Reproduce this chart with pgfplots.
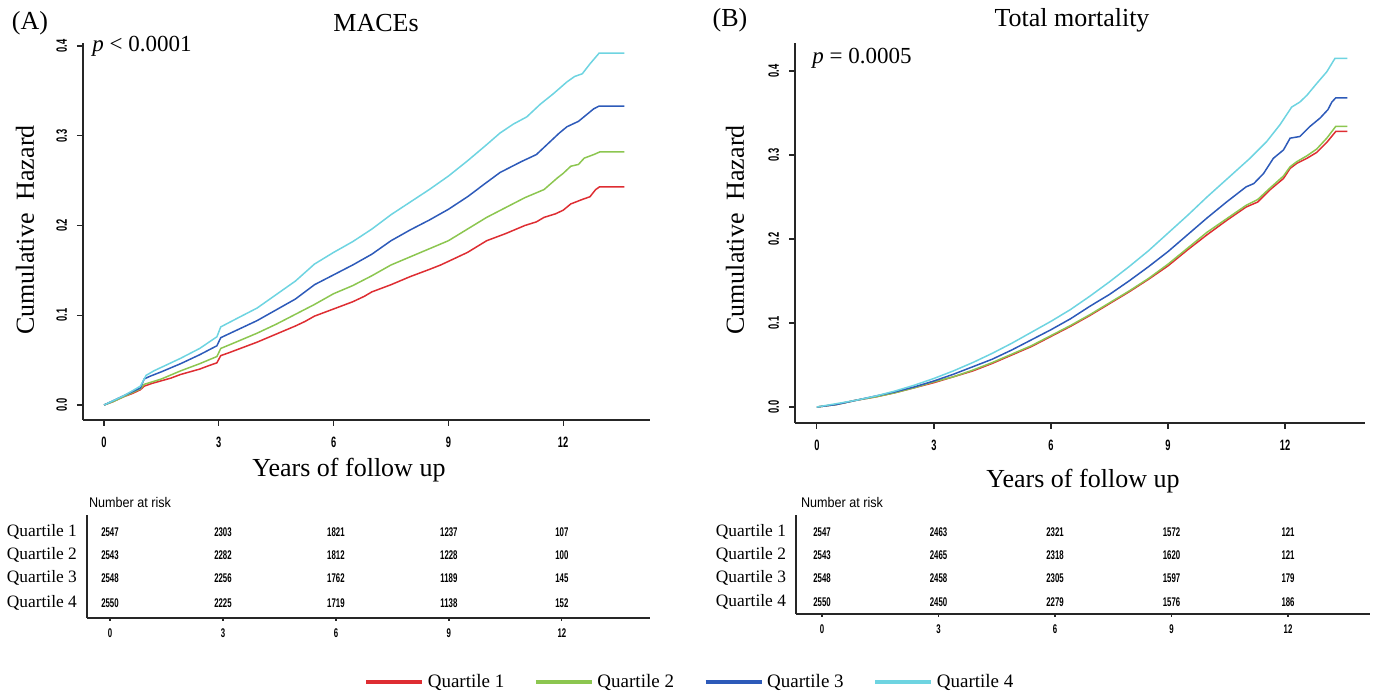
\documentclass[border=0pt]{standalone}
\usepackage{fontspec}
\setmainfont{Liberation Serif}
\newfontfamily\narrowsans[FakeStretch=0.62]{Liberation Sans}
\newfontfamily\risksans[FakeStretch=0.9]{Liberation Sans}
\usepackage{pgfplots}
\pgfplotsset{compat=1.18}
\usepackage{pgfplotstable}

\definecolor{qred}{RGB}{222,45,50}
\definecolor{qgreen}{RGB}{140,198,80}
\definecolor{qblue}{RGB}{45,90,185}
\definecolor{qcyan}{RGB}{110,212,225}

% ---------------- Panel A: MACEs ----------------
\pgfplotstableread{
t h
0 0
0.25 0.004
0.5 0.009
0.75 0.013
0.95 0.017
1.05 0.021
1.25 0.024
1.5 0.027
1.75 0.030
2.0 0.034
2.25 0.037
2.5 0.040
2.75 0.044
2.95 0.047
3.05 0.055
3.25 0.058
3.5 0.062
3.75 0.066
4.0 0.070
4.5 0.079
5.0 0.088
5.25 0.093
5.5 0.099
6.0 0.107
6.5 0.115
6.8 0.121
7.0 0.126
7.5 0.134
8.0 0.143
8.5 0.151
8.8 0.156
9.0 0.160
9.5 0.170
10.0 0.183
10.5 0.191
11.0 0.200
11.3 0.204
11.5 0.209
11.8 0.213
12.0 0.217
12.2 0.224
12.5 0.229
12.7 0.232
12.85 0.240
12.95 0.243
13.6 0.243
}\AqOne
\pgfplotstableread{
t h
0 0
0.25 0.004
0.5 0.009
0.75 0.014
0.95 0.018
1.05 0.023
1.5 0.029
2.0 0.038
2.5 0.046
2.95 0.054
3.05 0.063
3.5 0.071
4.0 0.080
4.5 0.090
5.0 0.101
5.5 0.112
6.0 0.124
6.5 0.133
7.0 0.144
7.5 0.156
8.0 0.165
8.5 0.174
9.0 0.183
9.5 0.196
10.0 0.209
10.5 0.220
11.0 0.231
11.5 0.240
11.85 0.253
12.0 0.258
12.2 0.266
12.4 0.268
12.55 0.275
12.8 0.279
12.96 0.282
13.6 0.282
}\AqTwo
\pgfplotstableread{
t h
0 0
0.25 0.005
0.5 0.010
0.75 0.015
0.95 0.019
1.05 0.029
1.2 0.032
1.5 0.037
2.0 0.046
2.5 0.056
2.95 0.066
3.05 0.075
3.5 0.084
4.0 0.094
4.5 0.106
5.0 0.118
5.5 0.134
6.0 0.145
6.5 0.156
7.0 0.168
7.5 0.183
8.0 0.195
8.5 0.206
9.0 0.218
9.5 0.232
10.0 0.248
10.35 0.259
10.9 0.271
11.3 0.279
11.5 0.287
11.65 0.293
11.9 0.303
12.1 0.310
12.4 0.316
12.6 0.323
12.8 0.330
12.94 0.333
13.6 0.333
}\AqThree
\pgfplotstableread{
t h
0 0
0.25 0.005
0.5 0.010
0.75 0.016
0.95 0.021
1.1 0.033
1.3 0.038
1.5 0.042
2.0 0.052
2.5 0.063
2.95 0.076
3.05 0.087
3.5 0.097
4.0 0.108
4.5 0.123
5.0 0.138
5.5 0.157
6.0 0.170
6.5 0.182
7.0 0.196
7.5 0.212
8.0 0.226
8.5 0.240
9.0 0.255
9.5 0.272
10.0 0.290
10.35 0.303
10.7 0.313
11.05 0.321
11.4 0.335
11.75 0.347
12.1 0.360
12.3 0.366
12.5 0.369
12.7 0.380
12.94 0.392
13.6 0.392
}\AqFour

% ---------------- Panel B: Total mortality ----------------
\pgfplotstableread{
t h
0 0
0.5 0.003
1 0.008
1.5 0.012
2 0.017
2.5 0.023
3 0.029
3.5 0.036
4 0.043
4.5 0.052
5 0.062
5.5 0.072
6 0.084
6.5 0.096
7 0.109
7.5 0.123
8 0.137
8.5 0.152
9 0.168
9.5 0.187
10 0.205
10.5 0.222
11 0.238
11.3 0.244
11.6 0.258
11.96 0.272
12.13 0.284
12.3 0.290
12.56 0.296
12.81 0.303
13.07 0.315
13.3 0.328
13.6 0.328
}\BqOne
\pgfplotstableread{
t h
0 0
0.5 0.003
1 0.008
1.5 0.012
2 0.017
2.5 0.023
3 0.030
3.5 0.036
4 0.044
4.5 0.053
5 0.063
5.5 0.073
6 0.085
6.5 0.097
7 0.110
7.5 0.124
8 0.138
8.5 0.153
9 0.170
9.5 0.189
10 0.208
10.5 0.224
11 0.240
11.3 0.247
11.6 0.260
11.96 0.275
12.13 0.286
12.3 0.292
12.56 0.299
12.81 0.307
13.07 0.320
13.3 0.334
13.6 0.334
}\BqTwo
\pgfplotstableread{
t h
0 0
0.5 0.003
1 0.008
1.5 0.013
2 0.018
2.5 0.024
3 0.031
3.5 0.039
4 0.048
4.5 0.057
5 0.068
5.5 0.080
6 0.092
6.5 0.105
7 0.120
7.5 0.134
8 0.150
8.5 0.167
9 0.185
9.5 0.205
10 0.225
10.5 0.244
11 0.262
11.2 0.266
11.45 0.278
11.7 0.296
11.96 0.306
12.13 0.320
12.38 0.322
12.64 0.334
12.9 0.344
13.1 0.354
13.2 0.363
13.3 0.368
13.6 0.368
}\BqThree
\pgfplotstableread{
t h
0 0
0.5 0.004
1 0.008
1.5 0.013
2 0.019
2.5 0.026
3 0.034
3.5 0.043
4 0.053
4.5 0.064
5 0.076
5.5 0.089
6 0.102
6.5 0.116
7 0.132
7.5 0.149
8 0.167
8.5 0.186
9 0.207
9.5 0.228
10 0.250
10.67 0.278
11.1 0.296
11.53 0.316
11.87 0.336
12.17 0.357
12.38 0.363
12.56 0.371
12.81 0.385
13.07 0.399
13.28 0.415
13.6 0.415
}\BqFour

% ---------------- Numbers at risk ----------------
\pgfplotstableread{
x y n
0 -532 2547
3 -532 2303
6 -532 1821
9 -532 1237
12 -532 107
0 -555 2543
3 -555 2282
6 -555 1812
9 -555 1228
12 -555 100
0 -578 2548
3 -578 2256
6 -578 1762
9 -578 1189
12 -578 145
0 -603 2550
3 -603 2225
6 -603 1719
9 -603 1138
12 -603 152
}\riskA
\pgfplotstableread{
x y n
0 -532 2547
3 -532 2463
6 -532 2321
9 -532 1572
12 -532 121
0 -555 2543
3 -555 2465
6 -555 2318
9 -555 1620
12 -555 121
0 -578 2548
3 -578 2458
6 -578 2305
9 -578 1597
12 -578 179
0 -602 2550
3 -602 2450
6 -602 2279
9 -602 1576
12 -602 186
}\riskB

\pgfplotsset{
  kmbase/.style={
    scale only axis, anchor=south west,
    axis x line*=bottom, axis y line*=left,
    axis line style={-, line width=0.6pt, black!85},
    tick style={line width=0.6pt, black!85},
    tick align=outside,
    xtick={0,3,6,9,12},
    /pgf/number format/assume math mode=true,
    ticklabel style={font=\narrowsans\bfseries\fontsize{7.5}{8}\selectfont},
  },
  kmmain/.style={
    kmbase,
    major tick length=3pt,
    ytick={0,0.1,0.2,0.3,0.4},
    yticklabel style={rotate=90, anchor=south,
      /pgf/number format/fixed, /pgf/number format/fixed zerofill,
      /pgf/number format/precision=1},
    xticklabel shift=2pt,
    yticklabel shift=1.5pt,
    every axis plot/.append style={line width=0.75pt},
  },
  kmrisk/.style={
    kmbase,
    major tick length=1.5pt,
    clip=false,
    ytick={-532,-555,-578,-603},
    yticklabels={Quartile 1,Quartile 2,Quartile 3,Quartile 4},
    ytick style={draw=none},
    yticklabel style={font=\fontsize{8.7}{9}\selectfont},
    xticklabel style={font=\narrowsans\bfseries\fontsize{6.3}{7}\selectfont},
    xticklabel shift=0.5pt,
  },
  risknums/.style={draw=none, mark=none, nodes near coords,
    point meta=explicit symbolic,
    every node near coord/.style={anchor=center,
      font=\narrowsans\bfseries\fontsize{6.3}{7}\selectfont}},
}

\begin{document}
\begin{tikzpicture}
\path[use as bounding box] (0,0) rectangle (687.5pt,347pt);

% ---------- Panel A main ----------
\begin{axis}[kmmain, at={(41.5pt,137pt)}, width=283.5pt, height=188.5pt,
  xmin=-0.55, xmax=14.27, ymin=-0.0167, ymax=0.4033,
  legend style={at={(1.0723,-0.695)}, anchor=center, draw=none, fill=none,
    legend columns=4, font=\fontsize{9.5}{11}\selectfont,
    /tikz/every even column/.append style={column sep=13pt}},
  legend image code/.code={\draw[#1, line width=1.6pt] (0pt,0pt) -- (28pt,0pt);},
]
\addplot[qred] table[x=t,y=h]{\AqOne};
\addplot[qgreen] table[x=t,y=h]{\AqTwo};
\addplot[qblue] table[x=t,y=h]{\AqThree};
\addplot[qcyan] table[x=t,y=h]{\AqFour};
\legend{Quartile 1,Quartile 2,Quartile 3,Quartile 4}
\end{axis}

% ---------- Panel B main ----------
\begin{axis}[kmmain, at={(397.5pt,135.5pt)}, width=285pt, height=190pt,
  xmin=-0.56, xmax=14.05, ymin=-0.019, ymax=0.4333]
\addplot[qred] table[x=t,y=h]{\BqOne};
\addplot[qgreen] table[x=t,y=h]{\BqTwo};
\addplot[qblue] table[x=t,y=h]{\BqThree};
\addplot[qcyan] table[x=t,y=h]{\BqFour};
\end{axis}

% ---------- Panel A risk table ----------
\begin{axis}[kmrisk, at={(43.5pt,38pt)}, width=281.5pt, height=51.5pt,
  xmin=-0.61, xmax=14.34, ymin=-618, ymax=-515]
\addplot[risknums] table[x=x,y=y,meta=n]{\riskA};
\end{axis}

% ---------- Panel B risk table ----------
\begin{axis}[kmrisk, at={(398pt,40pt)}, width=287pt, height=49.5pt,
  xmin=-0.67, xmax=14.11, ymin=-614, ymax=-515,
  ytick={-532,-555,-578,-602}]
\addplot[risknums] table[x=x,y=y,meta=n]{\riskB};
\end{axis}

% ---------- Texts ----------
\node[font=\fontsize{13}{15}\selectfont] at (15pt,335.5pt) {(A)};
\node[font=\fontsize{13}{15}\selectfont] at (188pt,335.5pt) {MACEs};
\node[font=\fontsize{13}{15}\selectfont] at (365pt,337pt) {(B)};
\node[font=\fontsize{13}{15}\selectfont] at (536pt,337pt) {Total mortality};
\node[font=\fontsize{11.5}{13}\selectfont] at (71pt,324pt) {\textit{p} < 0.0001};
\node[font=\fontsize{11.5}{13}\selectfont] at (431pt,318pt) {\textit{p} = 0.0005};
\node[font=\fontsize{13}{15}\selectfont, rotate=90] at (12.5pt,232pt) {Cumulative\ \ Hazard};
\node[font=\fontsize{13}{15}\selectfont, rotate=90] at (367.5pt,232pt) {Cumulative\ \ Hazard};
\node[font=\fontsize{13}{15}\selectfont] at (174.5pt,112pt) {Years of follow up};
\node[font=\fontsize{13}{15}\selectfont] at (541.5pt,106.5pt) {Years of follow up};
\node[font=\risksans\fontsize{7}{8}\selectfont] at (65pt,95.5pt) {Number at risk};
\node[font=\risksans\fontsize{7}{8}\selectfont] at (421pt,95.5pt) {Number at risk};
\end{tikzpicture}
\end{document}
